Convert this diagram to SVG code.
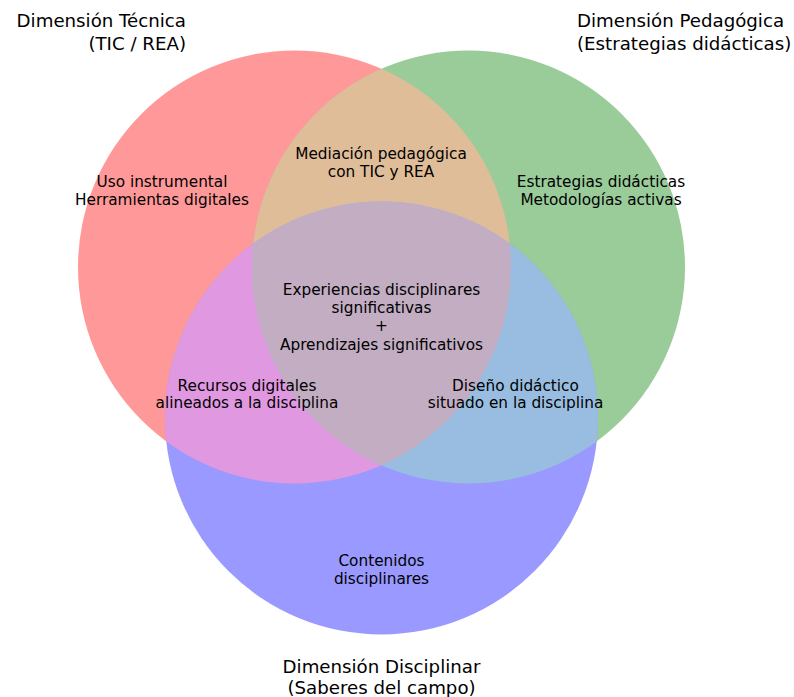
<svg xmlns="http://www.w3.org/2000/svg" width="794" height="697" viewBox="0 0 794 697">
<style>
text{font-family:"DejaVu Sans",sans-serif;fill:#000}
.t{font-size:18.2px}
.l{font-size:15.3px;text-anchor:middle}
</style>
<defs>
<clipPath id="cR"><circle cx="294.5" cy="267" r="216.5"/></clipPath>
<clipPath id="cG"><circle cx="468.5" cy="267" r="216.5"/></clipPath>
</defs>
<rect width="794" height="697" fill="#fff"/>
<g id="regions">
<circle id="setA" cx="294.5" cy="267" r="216.5" fill="#ff9999"/>
<circle id="setB" cx="468.5" cy="267" r="216.5" fill="#99cc99"/>
<circle id="setC" cx="381.5" cy="418" r="216.5" fill="#9999ff"/>
<circle id="AB" cx="468.5" cy="267" r="216.5" fill="#e0bd99" clip-path="url(#cR)"/>
<circle id="AC" cx="381.5" cy="418" r="216.5" fill="#e099e0" clip-path="url(#cR)"/>
<circle id="BC" cx="381.5" cy="418" r="216.5" fill="#99bde0" clip-path="url(#cG)"/>
<g clip-path="url(#cR)"><circle id="ABC" cx="381.5" cy="418" r="216.5" fill="#c2adc2" clip-path="url(#cG)"/></g>
</g>
<g id="titles">
<text class="t" x="186" y="27" text-anchor="end">Dimensión Técnica</text>
<text class="t" x="186" y="49.5" text-anchor="end">(TIC / REA)</text>
<text class="t" x="577" y="27">Dimensión Pedagógica</text>
<text class="t" x="577" y="49.5">(Estrategias didácticas)</text>
<text class="t" x="381.5" y="672.5" text-anchor="middle">Dimensión Disciplinar</text>
<text class="t" x="381.5" y="693.5" text-anchor="middle">(Saberes del campo)</text>
</g>
<g id="labels">
<text class="l" x="162" y="187"><tspan x="162">Uso instrumental</tspan><tspan x="162" dy="17.5">Herramientas digitales</tspan></text>
<text class="l" x="381" y="159"><tspan x="381">Mediación pedagógica</tspan><tspan x="381" dy="17.5">con TIC y REA</tspan></text>
<text class="l" x="601" y="187"><tspan x="601">Estrategias didácticas</tspan><tspan x="601" dy="17.5">Metodologías activas</tspan></text>
<text class="l" x="381.5" y="295"><tspan x="381.5">Experiencias disciplinares</tspan><tspan x="381.5" dy="18.2">significativas</tspan><tspan x="381.5" dy="18.2">+</tspan><tspan x="381.5" dy="18.2">Aprendizajes significativos</tspan></text>
<text class="l" x="247" y="390.5"><tspan x="247">Recursos digitales</tspan><tspan x="247" dy="17.5">alineados a la disciplina</tspan></text>
<text class="l" x="515.5" y="390.5"><tspan x="515.5">Diseño didáctico</tspan><tspan x="515.5" dy="17.5">situado en la disciplina</tspan></text>
<text class="l" x="381.5" y="566"><tspan x="381.5">Contenidos</tspan><tspan x="381.5" dy="17.5">disciplinares</tspan></text>
</g>
</svg>
